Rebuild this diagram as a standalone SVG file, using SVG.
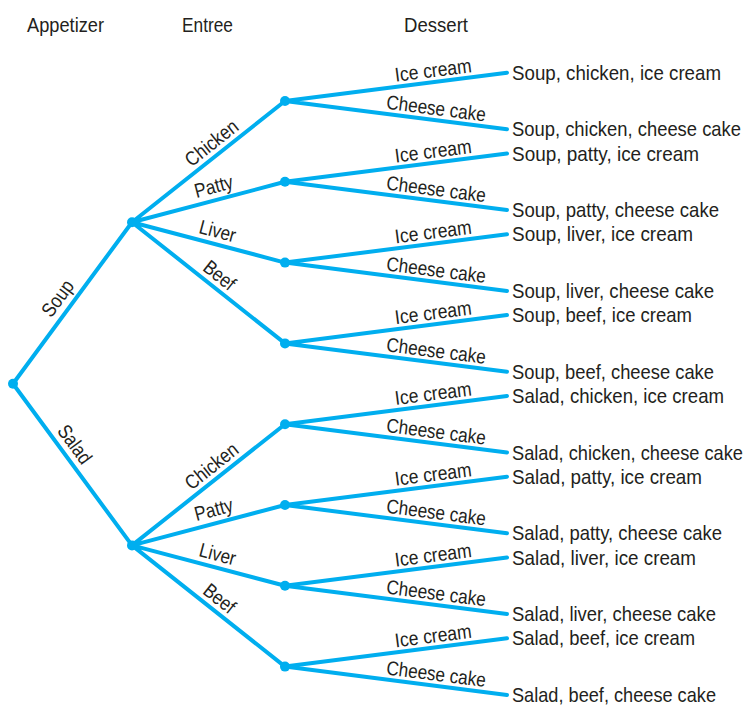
<svg xmlns="http://www.w3.org/2000/svg" width="746" height="705" viewBox="0 0 746 705">
<style>
text{font-family:"Liberation Sans",Arial,sans-serif;fill:#231f20;font-size:21px}
.lb{font-size:20px;text-anchor:middle}
.e{stroke:#00aeef;stroke-width:4;fill:none;stroke-linecap:round}
.d{fill:#00aeef}
</style>
<rect width="746" height="705" fill="#fff"/>
<g id="headers">
<text x="27" y="32" textLength="77" lengthAdjust="spacingAndGlyphs">Appetizer</text>
<text x="182" y="32" textLength="51" lengthAdjust="spacingAndGlyphs">Entree</text>
<text x="404" y="32" textLength="64" lengthAdjust="spacingAndGlyphs">Dessert</text>
</g>
<g id="connectors" class="e">
<path d="M13 383.8L132 222.2M13 383.8L132 545.4"/>
<path d="M132 222.2L285 101M132 222.2L285 181.8M132 222.2L285 262.6M132 222.2L285 343.4"/>
<path d="M132 545.4L285 424.2M132 545.4L285 505M132 545.4L285 585.8M132 545.4L285 666.6"/>
<path d="M285 101L507 72.7M285 101L507 129.3M285 181.8L507 153.5M285 181.8L507 210.1M285 262.6L507 234.3M285 262.6L507 290.9M285 343.4L507 315.1M285 343.4L507 371.7"/>
<path d="M285 424.2L507 395.9M285 424.2L507 452.5M285 505L507 476.7M285 505L507 533.3M285 585.8L507 557.5M285 585.8L507 614.1M285 666.6L507 638.3M285 666.6L507 694.9"/>
</g>
<g id="edge-labels">
<text class="lb" transform="translate(72.5 303) rotate(-53.63)" x="-5" y="-8" textLength="40" lengthAdjust="spacingAndGlyphs">Soup</text>
<text class="lb" transform="translate(72.5 464.6) rotate(53.63)" x="-15" y="-7" textLength="43" lengthAdjust="spacingAndGlyphs">Salad</text>
<text class="lb" transform="translate(208.5 161.6) rotate(-38.38)" x="14" y="-6" textLength="62" lengthAdjust="spacingAndGlyphs">Chicken</text>
<text class="lb" transform="translate(208.5 202) rotate(-14.79)" x="9" y="-7" textLength="39" lengthAdjust="spacingAndGlyphs">Patty</text>
<text class="lb" transform="translate(208.5 242.4) rotate(14.79)" x="6" y="-6.5" textLength="37" lengthAdjust="spacingAndGlyphs">Liver</text>
<text class="lb" transform="translate(208.5 282.8) rotate(38.38)" x="4" y="-6" textLength="35" lengthAdjust="spacingAndGlyphs">Beef</text>
<text class="lb" transform="translate(208.5 484.8) rotate(-38.38)" x="14" y="-6" textLength="62" lengthAdjust="spacingAndGlyphs">Chicken</text>
<text class="lb" transform="translate(208.5 525.2) rotate(-14.79)" x="9" y="-7" textLength="39" lengthAdjust="spacingAndGlyphs">Patty</text>
<text class="lb" transform="translate(208.5 565.6) rotate(14.79)" x="6" y="-6.5" textLength="37" lengthAdjust="spacingAndGlyphs">Liver</text>
<text class="lb" transform="translate(208.5 606) rotate(38.38)" x="4" y="-6" textLength="35" lengthAdjust="spacingAndGlyphs">Beef</text>
<text class="lb" transform="translate(396 86.85) rotate(-7.26)" x="39" y="-5" textLength="77" lengthAdjust="spacingAndGlyphs">Ice cream</text>
<text class="lb" transform="translate(396 115.15) rotate(7.26)" x="39" y="-5" textLength="100" lengthAdjust="spacingAndGlyphs">Cheese cake</text>
<text class="lb" transform="translate(396 167.65) rotate(-7.26)" x="39" y="-5" textLength="77" lengthAdjust="spacingAndGlyphs">Ice cream</text>
<text class="lb" transform="translate(396 195.95) rotate(7.26)" x="39" y="-5" textLength="100" lengthAdjust="spacingAndGlyphs">Cheese cake</text>
<text class="lb" transform="translate(396 248.45) rotate(-7.26)" x="39" y="-5" textLength="77" lengthAdjust="spacingAndGlyphs">Ice cream</text>
<text class="lb" transform="translate(396 276.75) rotate(7.26)" x="39" y="-5" textLength="100" lengthAdjust="spacingAndGlyphs">Cheese cake</text>
<text class="lb" transform="translate(396 329.25) rotate(-7.26)" x="39" y="-5" textLength="77" lengthAdjust="spacingAndGlyphs">Ice cream</text>
<text class="lb" transform="translate(396 357.55) rotate(7.26)" x="39" y="-5" textLength="100" lengthAdjust="spacingAndGlyphs">Cheese cake</text>
<text class="lb" transform="translate(396 410.05) rotate(-7.26)" x="39" y="-5" textLength="77" lengthAdjust="spacingAndGlyphs">Ice cream</text>
<text class="lb" transform="translate(396 438.35) rotate(7.26)" x="39" y="-5" textLength="100" lengthAdjust="spacingAndGlyphs">Cheese cake</text>
<text class="lb" transform="translate(396 490.85) rotate(-7.26)" x="39" y="-5" textLength="77" lengthAdjust="spacingAndGlyphs">Ice cream</text>
<text class="lb" transform="translate(396 519.15) rotate(7.26)" x="39" y="-5" textLength="100" lengthAdjust="spacingAndGlyphs">Cheese cake</text>
<text class="lb" transform="translate(396 571.65) rotate(-7.26)" x="39" y="-5" textLength="77" lengthAdjust="spacingAndGlyphs">Ice cream</text>
<text class="lb" transform="translate(396 599.95) rotate(7.26)" x="39" y="-5" textLength="100" lengthAdjust="spacingAndGlyphs">Cheese cake</text>
<text class="lb" transform="translate(396 652.45) rotate(-7.26)" x="39" y="-5" textLength="77" lengthAdjust="spacingAndGlyphs">Ice cream</text>
<text class="lb" transform="translate(396 680.75) rotate(7.26)" x="39" y="-5" textLength="100" lengthAdjust="spacingAndGlyphs">Cheese cake</text>
</g>
<g id="root"><circle class="d" cx="13" cy="383.8" r="5"/></g>
<g id="soup"><circle class="d" cx="132" cy="222.2" r="5"/></g>
<g id="salad"><circle class="d" cx="132" cy="545.4" r="5"/></g>
<g id="soup-chicken"><circle class="d" cx="285" cy="101" r="5"/></g>
<g id="soup-patty"><circle class="d" cx="285" cy="181.8" r="5"/></g>
<g id="soup-liver"><circle class="d" cx="285" cy="262.6" r="5"/></g>
<g id="soup-beef"><circle class="d" cx="285" cy="343.4" r="5"/></g>
<g id="salad-chicken"><circle class="d" cx="285" cy="424.2" r="5"/></g>
<g id="salad-patty"><circle class="d" cx="285" cy="505" r="5"/></g>
<g id="salad-liver"><circle class="d" cx="285" cy="585.8" r="5"/></g>
<g id="salad-beef"><circle class="d" cx="285" cy="666.6" r="5"/></g>
<g id="outcomes">
<text x="512" y="79.7" textLength="209" lengthAdjust="spacingAndGlyphs">Soup, chicken, ice cream</text>
<text x="512" y="136.3" textLength="229" lengthAdjust="spacingAndGlyphs">Soup, chicken, cheese cake</text>
<text x="512" y="160.5" textLength="187" lengthAdjust="spacingAndGlyphs">Soup, patty, ice cream</text>
<text x="512" y="217.1" textLength="207" lengthAdjust="spacingAndGlyphs">Soup, patty, cheese cake</text>
<text x="512" y="241.3" textLength="181" lengthAdjust="spacingAndGlyphs">Soup, liver, ice cream</text>
<text x="512" y="297.9" textLength="202" lengthAdjust="spacingAndGlyphs">Soup, liver, cheese cake</text>
<text x="512" y="322.1" textLength="180" lengthAdjust="spacingAndGlyphs">Soup, beef, ice cream</text>
<text x="512" y="378.7" textLength="202" lengthAdjust="spacingAndGlyphs">Soup, beef, cheese cake</text>
<text x="512" y="402.9" textLength="212" lengthAdjust="spacingAndGlyphs">Salad, chicken, ice cream</text>
<text x="512" y="459.5" textLength="231" lengthAdjust="spacingAndGlyphs">Salad, chicken, cheese cake</text>
<text x="512" y="483.7" textLength="190" lengthAdjust="spacingAndGlyphs">Salad, patty, ice cream</text>
<text x="512" y="540.3" textLength="210" lengthAdjust="spacingAndGlyphs">Salad, patty, cheese cake</text>
<text x="512" y="564.5" textLength="184" lengthAdjust="spacingAndGlyphs">Salad, liver, ice cream</text>
<text x="512" y="621.1" textLength="204" lengthAdjust="spacingAndGlyphs">Salad, liver, cheese cake</text>
<text x="512" y="645.3" textLength="183" lengthAdjust="spacingAndGlyphs">Salad, beef, ice cream</text>
<text x="512" y="701.9" textLength="204" lengthAdjust="spacingAndGlyphs">Salad, beef, cheese cake</text>
</g>
</svg>
